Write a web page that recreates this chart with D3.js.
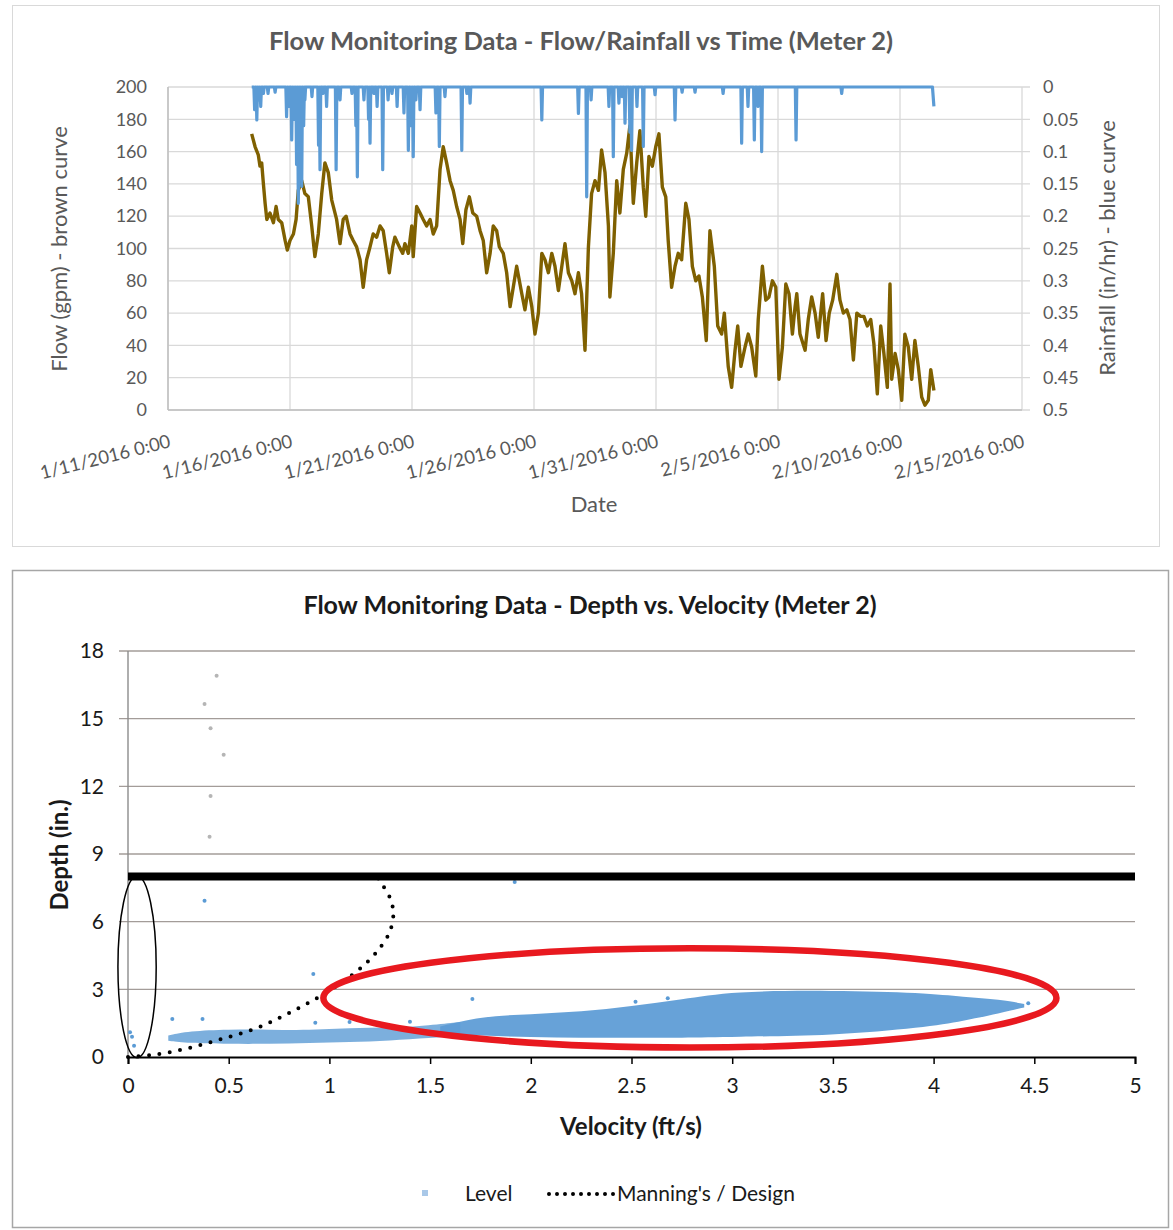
<!DOCTYPE html>
<html>
<head>
<meta charset="utf-8">
<script src="https://cdnjs.cloudflare.com/ajax/libs/d3/7.8.5/d3.min.js"></script>
<title>Flow Monitoring Data (Meter 2)</title>
<style>
    html, body { margin: 0; background: #fff; }
    svg { display: block; font-family: Lato, "Open Sans", sans-serif; }
    .top text { fill: #595959; }
    .bot text { fill: #1a1a1a; }
</style>
</head>
<body>
<svg id="chart" width="1173" height="1230"></svg>
<script>
// ---- top chart data: days after 1/11/2016 0:00 ----
var startDate = new Date(2016, 0, 11);
var dayTicks = [0, 5, 10, 15, 20, 25, 30, 35];
var flowTicks = [0, 20, 40, 60, 80, 100, 120, 140, 160, 180, 200];
var rainTicks = [0, 0.05, 0.1, 0.15, 0.2, 0.25, 0.3, 0.35, 0.4, 0.45, 0.5];

// flow (gpm) - brown curve
var flowSeries = [
    [3.43,171],[3.57,163],[3.70,158],[3.77,151],[3.84,153],[3.91,140],[3.98,128],[4.05,118],[4.18,122],[4.32,116],
    [4.43,126],[4.52,118],[4.66,116],[4.80,105],[4.89,99],[5.00,105],[5.14,109],[5.25,118],[5.34,136],[5.48,142],
    [5.61,134],[5.75,132],[5.89,114],[6.02,95],[6.16,109],[6.30,134],[6.43,153],[6.57,147],[6.71,130],[6.91,118],
    [7.05,103],[7.18,118],[7.30,120],[7.46,109],[7.59,105],[7.73,101],[7.87,93],[8.00,76],[8.14,93],[8.28,101],
    [8.41,109],[8.55,107],[8.69,114],[8.82,111],[8.96,97],[9.07,85],[9.21,101],[9.30,107],[9.48,101],[9.62,97],
    [9.71,103],[9.85,97],[9.99,114],[10.05,95],[10.19,126],[10.33,122],[10.46,118],[10.60,114],[10.74,118],[10.87,109],
    [11.01,114],[11.15,149],[11.28,163],[11.42,153],[11.56,142],[11.69,136],[11.83,126],[11.97,118],[12.08,103],[12.21,124],
    [12.35,132],[12.49,122],[12.65,120],[12.79,111],[12.92,105],[13.06,85],[13.20,97],[13.33,114],[13.47,111],[13.58,101],
    [13.74,97],[13.88,85],[14.02,64],[14.15,76],[14.29,89],[14.50,72],[14.63,62],[14.77,76],[14.91,64],[15.04,47],
    [15.18,60],[15.32,97],[15.45,93],[15.59,85],[15.73,97],[15.86,89],[16.00,74],[16.14,89],[16.27,103],[16.41,85],
    [16.55,80],[16.68,72],[16.82,85],[16.95,72],[17.09,37],[17.23,101],[17.36,134],[17.50,142],[17.64,136],[17.77,161],
    [17.91,147],[18.05,114],[18.11,70],[18.25,97],[18.39,142],[18.52,122],[18.66,149],[18.80,159],[18.93,176],[19.07,128],
    [19.21,153],[19.34,173],[19.48,138],[19.58,120],[19.71,157],[19.85,151],[19.99,163],[20.12,171],[20.26,138],[20.40,132],
    [20.50,105],[20.64,76],[20.78,89],[20.91,97],[21.05,93],[21.22,128],[21.35,118],[21.49,89],[21.63,80],[21.76,83],
    [21.90,70],[22.06,43],[22.21,111],[22.39,89],[22.53,52],[22.69,47],[22.80,60],[22.96,27],[23.10,14],[23.24,37],
    [23.35,52],[23.48,27],[23.65,39],[23.78,47],[23.92,39],[24.09,21],[24.19,56],[24.36,89],[24.50,68],[24.63,70],
    [24.77,80],[24.91,76],[25.04,19],[25.18,39],[25.32,78],[25.45,72],[25.59,47],[25.70,64],[25.77,72],[25.90,47],
    [26.11,37],[26.24,56],[26.38,70],[26.52,60],[26.65,45],[26.83,72],[26.97,43],[27.10,60],[27.24,68],[27.41,84],
    [27.54,68],[27.68,60],[27.82,62],[27.95,56],[28.09,31],[28.23,60],[28.39,58],[28.52,58],[28.66,52],[28.80,56],
    [28.93,41],[29.07,10],[29.21,52],[29.34,35],[29.48,14],[29.59,78],[29.66,19],[29.80,35],[29.93,25],[30.07,6],
    [30.20,47],[30.34,39],[30.48,19],[30.61,43],[30.75,27],[30.89,8],[31.02,3],[31.16,6],[31.26,25],[31.39,12]
];

// rainfall (in/hr) - blue curve
var rainSeries = [
    [3.43,0],[3.52,0],[3.55,0.035],[3.58,0],[3.61,0],[3.64,0.051],[3.67,0],[3.69,0],[3.72,0.02],[3.75,0],
    [3.77,0],[3.80,0.03],[3.83,0],[3.88,0],[3.91,0.01],[3.94,0],[4.07,0],[4.10,0.01],[4.13,0],[4.36,0],
    [4.39,0.008],[4.42,0],[4.83,0],[4.86,0.046],[4.89,0],[4.92,0],[4.95,0.03],[4.98,0],[5.04,0],[5.07,0.082],
    [5.10,0],[5.11,0],[5.14,0.05],[5.17,0],[5.17,0],[5.20,0.02],[5.23,0],[5.24,0],[5.27,0.12],[5.30,0],
    [5.31,0],[5.34,0.18],[5.37,0],[5.38,0],[5.41,0.10],[5.44,0],[5.45,0],[5.48,0.154],[5.51,0],[5.53,0],
    [5.56,0.06],[5.59,0],[5.59,0],[5.61,0.02],[5.64,0],[5.87,0],[5.90,0.015],[5.93,0],[6.14,0],[6.17,0.09],
    [6.20,0],[6.20,0],[6.23,0.128],[6.26,0],[6.32,0],[6.35,0.01],[6.38,0],[6.47,0],[6.50,0.03],[6.53,0],
    [6.86,0],[6.89,0.128],[6.92,0],[7.02,0],[7.05,0.02],[7.08,0],[7.51,0],[7.54,0.01],[7.57,0],[7.67,0],
    [7.70,0.06],[7.73,0],[7.73,0],[7.76,0.139],[7.79,0],[8.00,0],[8.03,0.02],[8.06,0],[8.19,0],[8.22,0.05],
    [8.25,0],[8.25,0],[8.28,0.087],[8.31,0],[8.41,0],[8.44,0.01],[8.47,0],[8.54,0],[8.57,0.03],[8.60,0],
    [8.77,0],[8.80,0.128],[8.83,0],[8.99,0],[9.02,0.02],[9.05,0],[9.15,0],[9.18,0.01],[9.21,0],[9.36,0],
    [9.39,0.03],[9.42,0],[9.64,0],[9.67,0.04],[9.70,0],[9.82,0],[9.85,0.098],[9.88,0],[9.93,0],[9.96,0.06],
    [9.99,0],[10.02,0],[10.05,0.108],[10.08,0],[10.13,0],[10.16,0.02],[10.19,0],[10.30,0],[10.33,0.035],[10.36,0],
    [10.95,0],[10.98,0.04],[11.01,0],[11.09,0],[11.12,0.092],[11.15,0],[11.32,0],[11.35,0.015],[11.38,0],[12.01,0],
    [12.04,0.098],[12.07,0],[12.22,0],[12.25,0.01],[12.28,0],[12.35,0],[12.38,0.025],[12.41,0],[15.29,0],[15.32,0.051],
    [15.35,0],[16.79,0],[16.82,0.041],[16.85,0],[17.13,0],[17.16,0.17],[17.19,0],[17.31,0],[17.34,0.02],[17.37,0],
    [18.04,0],[18.07,0.03],[18.10,0],[18.22,0],[18.25,0.108],[18.28,0],[18.45,0],[18.48,0.025],[18.51,0],[18.58,0],
    [18.61,0.015],[18.64,0],[18.70,0],[18.73,0.056],[18.76,0],[18.90,0],[18.93,0.07],[18.96,0],[18.97,0],[19.00,0.098],
    [19.03,0],[19.19,0],[19.22,0.03],[19.25,0],[19.45,0],[19.48,0.092],[19.51,0],[19.93,0],[19.96,0.012],[19.99,0],
    [20.75,0],[20.78,0.051],[20.81,0],[21.04,0],[21.07,0.008],[21.10,0],[21.57,0],[21.60,0.008],[21.63,0],[22.72,0],
    [22.75,0.01],[22.78,0],[23.48,0],[23.51,0.087],[23.54,0],[23.74,0],[23.77,0.03],[23.80,0],[24.00,0],[24.03,0.082],
    [24.06,0],[24.15,0],[24.18,0.03],[24.21,0],[24.30,0],[24.33,0.1],[24.36,0],[25.71,0],[25.74,0.082],[25.77,0],
    [27.58,0],[27.61,0.01],[27.64,0],[31.33,0],[31.39,0.03]
];

// ---- bottom chart data ----
var velocityTicks = [0, 0.5, 1, 1.5, 2, 2.5, 3, 3.5, 4, 4.5, 5];
var depthTicks = [0, 3, 6, 9, 12, 15, 18];
var pipeDepth = 8;   // in.

// Manning's / Design curve [velocity ft/s, depth in.]
var manning = [
    [0,0],[0.09,0.06],[0.15,0.13],[0.21,0.22],[0.26,0.31],[0.31,0.41],[0.36,0.53],[0.45,0.76],[0.55,1.02],
    [0.655,1.34],[0.75,1.73],[0.84,2.13],[0.93,2.57],[1.02,3.05],[1.10,3.55],[1.185,4.18],[1.25,4.83],
    [1.30,5.55],[1.318,6.38],[1.31,6.8],[1.29,7.27],[1.26,7.67],[1.24,7.95]
];

// Level scatter: band of the point cloud [velocity, min depth, max depth]
var levelSparse = [
    [0.20,0.72,0.95],[0.30,0.62,1.15],[0.50,0.58,1.22],[0.70,0.58,1.22],[0.90,0.62,1.18],
    [1.10,0.66,1.30],[1.30,0.72,1.28],[1.50,0.85,1.40],[1.65,0.92,1.55]
];
var levelDense = [
    [1.55,1.05,1.35],[1.75,0.95,1.80],[2.00,0.88,1.90],[2.25,0.85,2.00],[2.50,0.85,2.25],[2.75,0.85,2.55],
    [3.00,0.90,2.92],[3.50,0.95,2.95],[3.95,1.30,2.85],[4.15,1.60,2.65],[4.33,1.95,2.55],[4.45,2.20,2.35]
];
var levelOutliers = [
    [0.92,3.68],[1.71,2.57],[0.22,1.68],[0.37,1.68],[0.93,1.52],[1.40,1.56],[2.52,2.45],[2.68,2.60],
    [4.47,2.38],[0.02,0.90],[0.03,0.50],[0.01,1.10],[1.10,1.55],[1.92,7.76],[0.38,6.93]
];
var levelFaint = [[0.44,16.9],[0.38,15.65],[0.41,14.58],[0.475,13.4],[0.41,11.57],[0.405,9.77]];

// annotation rings [centre velocity, centre depth, radius velocity, radius depth]
var blackRing = [0.045, 4.0, 0.095, 4.03];
var redRing = [2.79, 2.62, 1.82, 2.2];

var svg = d3.select("#chart");
svg.append("rect").attr("width", 1173).attr("height", 1230).attr("fill", "#fff");

function dayToDate(d) { return new Date(startDate.getTime() + d * 864e5); }

// ================= TOP CHART =================
var topG = svg.append("g").attr("class", "top");
topG.append("rect").attr("x", 12.5).attr("y", 5.5).attr("width", 1147).attr("height", 541)
    .attr("fill", "none").attr("stroke", "#d9d9d9");

var x = d3.scaleTime().domain([startDate, dayToDate(35)]).range([168, 1022]);
var yFlow = d3.scaleLinear().domain([0, 200]).range([410, 87]);
var yRain = d3.scaleLinear().domain([0, 0.5]).range([87, 410]);

topG.append("g").selectAll("line").data(flowTicks).join("line")
    .attr("x1", 168).attr("x2", 1030)
    .attr("y1", function(d){ return yFlow(d); }).attr("y2", function(d){ return yFlow(d); })
    .attr("stroke", "#d9d9d9").attr("stroke-width", 1.3);
topG.append("g").selectAll("line").data(dayTicks).join("line")
    .attr("x1", function(d){ return x(dayToDate(d)); }).attr("x2", function(d){ return x(dayToDate(d)); })
    .attr("y1", 87).attr("y2", 410)
    .attr("stroke", "#d9d9d9").attr("stroke-width", 1.3);
topG.append("line").attr("x1", 168).attr("x2", 168).attr("y1", 87).attr("y2", 410).attr("stroke", "#bfbfbf").attr("stroke-width", 1.5);
topG.append("line").attr("x1", 168).attr("x2", 1022).attr("y1", 410).attr("y2", 410).attr("stroke", "#bfbfbf").attr("stroke-width", 1.5);

var leftAxis = topG.append("g").attr("transform", "translate(168,0)")
    .call(d3.axisLeft(yFlow).tickValues(flowTicks).tickSize(0).tickPadding(21));
var rightAxis = topG.append("g").attr("transform", "translate(1022,0)")
    .call(d3.axisRight(yRain).tickValues(rainTicks).tickSize(0).tickPadding(21).tickFormat(d3.format("~g")));
var fmtDate = d3.timeFormat("%-m/%-d/%Y %-H:%M");
var bottomAxis = topG.append("g").attr("transform", "translate(0,410)")
    .call(d3.axisBottom(x).tickValues(dayTicks.map(dayToDate)).tickSize(0).tickFormat(fmtDate));
[leftAxis, rightAxis, bottomAxis].forEach(function(a){
    a.select(".domain").remove();
    a.selectAll("text").attr("font-size", 18).attr("font-family", "Lato, sans-serif").attr("fill", "#595959");
});
bottomAxis.selectAll("text")
    .attr("font-size", 18.5)
    .attr("text-anchor", "end").attr("dy", 0).attr("y", 0)
    .attr("transform", "translate(3,37) rotate(-14)");

var flowLine = d3.line()
    .x(function(d){ return x(dayToDate(d[0])); })
    .y(function(d){ return yFlow(d[1]); });
var rainLine = d3.line()
    .x(function(d){ return x(dayToDate(d[0])); })
    .y(function(d){ return yRain(d[1]); });

topG.append("path").datum(flowSeries).attr("d", flowLine)
    .attr("fill", "none").attr("stroke", "#7f6000").attr("stroke-width", 3.4).attr("stroke-linejoin", "round");
topG.append("path").datum(rainSeries).attr("d", rainLine)
    .attr("fill", "none").attr("stroke", "#5b9bd5").attr("stroke-width", 3.2).attr("stroke-linejoin", "round");

topG.append("text").attr("x", 581).attr("y", 50).attr("text-anchor", "middle")
    .attr("font-size", 25.5).attr("font-weight", "bold").text("Flow Monitoring Data - Flow/Rainfall vs Time (Meter 2)");
topG.append("text").attr("x", 594).attr("y", 512).attr("text-anchor", "middle")
    .attr("font-size", 22).text("Date");
topG.append("text").attr("transform", "translate(67,249) rotate(-90)").attr("text-anchor", "middle")
    .attr("font-size", 22).text("Flow (gpm) - brown curve");
topG.append("text").attr("transform", "translate(1115,248) rotate(-90)").attr("text-anchor", "middle")
    .attr("font-size", 22).text("Rainfall (in/hr) - blue curve");

// ================= BOTTOM CHART =================
var bot = svg.append("g").attr("class", "bot");
bot.append("rect").attr("x", 12.5).attr("y", 570.5).attr("width", 1156).attr("height", 657)
    .attr("fill", "none").attr("stroke", "#a6a6a6").attr("stroke-width", 1.5);

var xV = d3.scaleLinear().domain([0, 5]).range([128, 1135]);
var yD = d3.scaleLinear().domain([0, 18]).range([1057, 651]);

bot.append("g").selectAll("line").data(depthTicks.filter(function(d){ return d > 0; })).join("line")
    .attr("x1", 119).attr("x2", 1135)
    .attr("y1", function(d){ return yD(d); }).attr("y2", function(d){ return yD(d); })
    .attr("stroke", "#a39c99").attr("stroke-width", 1.4);
bot.append("line").attr("x1", 128).attr("x2", 128).attr("y1", 651).attr("y2", 1057).attr("stroke", "#8c8c8c").attr("stroke-width", 1.4);

var yAxisB = bot.append("g").attr("transform", "translate(128,0)")
    .call(d3.axisLeft(yD).tickValues(depthTicks).tickSize(0).tickPadding(24));
var xAxisB = bot.append("g").attr("transform", "translate(0,1057)")
    .call(d3.axisBottom(xV).tickValues(velocityTicks).tickSize(7).tickPadding(14).tickFormat(d3.format("~g")));
yAxisB.select(".domain").remove();
xAxisB.select(".domain").attr("stroke", "#000").attr("stroke-width", 2);
xAxisB.selectAll("line").attr("stroke", "#000").attr("stroke-width", 1.5);
[yAxisB, xAxisB].forEach(function(a){
    a.selectAll("text").attr("font-size", 21).attr("font-family", "Lato, sans-serif").attr("fill", "#1a1a1a");
});

// level scatter
var band = d3.area()
    .x(function(d){ return xV(d[0]); })
    .y0(function(d){ return yD(d[1]); })
    .y1(function(d){ return yD(d[2]); })
    .curve(d3.curveBasis);
bot.append("path").datum(levelSparse).attr("d", band).attr("fill", "#5b9bd5").attr("fill-opacity", 0.8);
bot.append("path").datum(levelDense).attr("d", band).attr("fill", "#5b9bd5").attr("fill-opacity", 0.93);
bot.append("g").selectAll("circle").data(levelOutliers).join("circle")
    .attr("cx", function(d){ return xV(d[0]); }).attr("cy", function(d){ return yD(d[1]); })
    .attr("r", 2).attr("fill", "#5b9bd5");
bot.append("g").selectAll("circle").data(levelFaint).join("circle")
    .attr("cx", function(d){ return xV(d[0]); }).attr("cy", function(d){ return yD(d[1]); })
    .attr("r", 2).attr("fill", "#b5b5b5");

// pipe crown line
bot.append("line").attr("x1", xV(0)).attr("x2", xV(5)).attr("y1", yD(pipeDepth)).attr("y2", yD(pipeDepth))
    .attr("stroke", "#000").attr("stroke-width", 8);

// Manning's curve
var mLine = d3.line().x(function(d){ return xV(d[0]); }).y(function(d){ return yD(d[1]); }).curve(d3.curveCatmullRom);
bot.append("path").datum(manning).attr("d", mLine)
    .attr("fill", "none").attr("stroke", "#000").attr("stroke-width", 4)
    .attr("stroke-linecap", "round").attr("stroke-dasharray", "0 10.5");

// rings
bot.append("ellipse")
    .attr("cx", xV(blackRing[0])).attr("cy", yD(blackRing[1]))
    .attr("rx", xV(blackRing[2]) - xV(0)).attr("ry", yD(0) - yD(blackRing[3]))
    .attr("fill", "none").attr("stroke", "#000").attr("stroke-width", 1.5);
bot.append("ellipse")
    .attr("cx", xV(redRing[0])).attr("cy", yD(redRing[1]))
    .attr("rx", xV(redRing[2]) - xV(0)).attr("ry", yD(0) - yD(redRing[3]))
    .attr("fill", "none").attr("stroke", "#e8191f").attr("stroke-width", 6.5);

// titles
bot.append("text").attr("x", 590).attr("y", 614).attr("text-anchor", "middle")
    .attr("font-size", 25).attr("font-weight", "bold").text("Flow Monitoring Data - Depth vs. Velocity (Meter 2)");
bot.append("text").attr("x", 631).attr("y", 1135).attr("text-anchor", "middle")
    .attr("font-size", 24).attr("font-weight", "bold").text("Velocity (ft/s)");
bot.append("text").attr("transform", "translate(68,855) rotate(-90)").attr("text-anchor", "middle")
    .attr("font-size", 24).attr("font-weight", "bold").text("Depth (in.)");

// legend
var leg = bot.append("g").attr("transform", "translate(0,1193)");
leg.append("rect").attr("x", 422).attr("y", -3).attr("width", 6).attr("height", 6).attr("fill", "#a9c8e8");
leg.append("text").attr("x", 465).attr("y", 8).attr("font-size", 21).text("Level");
leg.append("line").attr("x1", 549).attr("x2", 614).attr("y1", 1).attr("y2", 1)
    .attr("stroke", "#000").attr("stroke-width", 4).attr("stroke-linecap", "round").attr("stroke-dasharray", "0 8");
leg.append("text").attr("x", 617).attr("y", 8).attr("font-size", 21).text("Manning's / Design");
</script>
</body>
</html>
